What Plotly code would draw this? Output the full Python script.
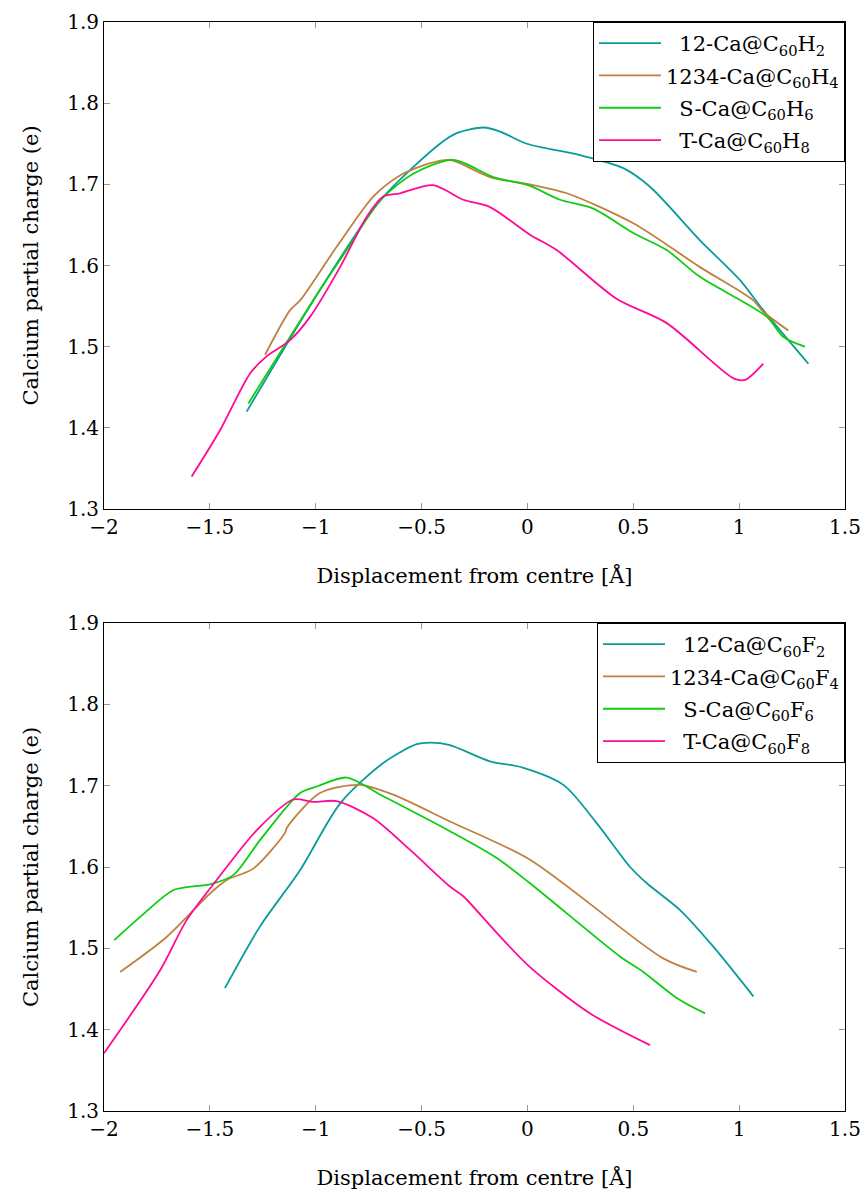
import plotly.graph_objects as go

# ---- Hydrogenated cages (upper panel) ----
h2_x = [-1.326, -1.011, -0.696, -0.413, -0.334, -0.208, -0.129, -0.003, 0.248, 0.453, 0.579, 0.815, 1.004, 1.114, 1.327]
h2_y = [1.420, 1.557, 1.680, 1.750, 1.763, 1.770, 1.765, 1.750, 1.736, 1.720, 1.697, 1.631, 1.582, 1.545, 1.479]

h4_x = [-1.239, -1.121, -1.074, -0.901, -0.728, -0.602, -0.460, -0.366, -0.177, 0.028, 0.186, 0.500, 0.815, 1.067, 1.114, 1.232]
h4_y = [1.490, 1.545, 1.557, 1.623, 1.685, 1.711, 1.726, 1.730, 1.709, 1.699, 1.689, 1.652, 1.598, 1.557, 1.543, 1.520]

h6_x = [-1.318, -0.980, -0.854, -0.696, -0.539, -0.350, -0.161, 0.012, 0.154, 0.311, 0.500, 0.658, 0.815, 1.130, 1.209, 1.311]
h6_y = [1.430, 1.570, 1.619, 1.680, 1.713, 1.730, 1.709, 1.698, 1.681, 1.670, 1.640, 1.619, 1.586, 1.537, 1.512, 1.500]

h8_x = [-1.586, -1.452, -1.310, -1.232, -1.121, -1.026, -0.885, -0.759, -0.681, -0.602, -0.445, -0.303, -0.177, 0.012, 0.138, 0.421, 0.658, 0.973, 1.028, 1.114]
h8_y = [1.340, 1.397, 1.467, 1.488, 1.508, 1.537, 1.598, 1.660, 1.685, 1.689, 1.699, 1.681, 1.672, 1.638, 1.619, 1.559, 1.529, 1.461, 1.459, 1.479]

# ---- Fluorinated cages (lower panel) ----
f2_x = [-1.429, -1.263, -1.074, -0.885, -0.681, -0.523, -0.460, -0.366, -0.177, -0.019, 0.170, 0.327, 0.485, 0.564, 0.721, 0.878, 1.067]
f2_y = [1.451, 1.527, 1.596, 1.678, 1.728, 1.751, 1.753, 1.750, 1.730, 1.722, 1.701, 1.654, 1.600, 1.580, 1.547, 1.502, 1.441]

f4_x = [-1.924, -1.704, -1.497, -1.420, -1.295, -1.145, -1.137, -0.980, -0.791, -0.634, -0.366, 0.012, 0.639, 0.800]
f4_y = [1.471, 1.514, 1.568, 1.584, 1.598, 1.642, 1.648, 1.691, 1.701, 1.689, 1.656, 1.609, 1.488, 1.471]

f6_x = [-1.952, -1.810, -1.669, -1.495, -1.389, -1.263, -1.074, -0.995, -0.854, -0.681, -0.366, -0.145, 0.012, 0.437, 0.547, 0.705, 0.839]
f6_y = [1.510, 1.543, 1.572, 1.579, 1.590, 1.633, 1.691, 1.699, 1.710, 1.687, 1.644, 1.611, 1.580, 1.490, 1.471, 1.439, 1.420]

f8_x = [-2.000, -1.735, -1.609, -1.468, -1.276, -1.106, -1.011, -0.901, -0.728, -0.554, -0.366, -0.303, -0.145, 0.012, 0.296, 0.579]
f8_y = [1.371, 1.473, 1.535, 1.584, 1.646, 1.683, 1.680, 1.681, 1.660, 1.621, 1.576, 1.564, 1.519, 1.477, 1.420, 1.381]

# legend labels; the shorter ones get a small non-breaking indent so they sit centred
PAD = "\u00a0\u00a0"
h_names = [PAD + "12-Ca@C<sub>60</sub>H<sub>2</sub>", "1234-Ca@C<sub>60</sub>H<sub>4</sub>",
           PAD + "S-Ca@C<sub>60</sub>H<sub>6</sub>", PAD + "T-Ca@C<sub>60</sub>H<sub>8</sub>"]
f_names = [PAD + "12-Ca@C<sub>60</sub>F<sub>2</sub>", "1234-Ca@C<sub>60</sub>F<sub>4</sub>",
           PAD + "S-Ca@C<sub>60</sub>F<sub>6</sub>", PAD + "T-Ca@C<sub>60</sub>F<sub>8</sub>"]

x_ticks = [-2, -1.5, -1, -0.5, 0, 0.5, 1, 1.5]
x_tick_text = ["\u22122", "\u22121.5", "\u22121", "\u22120.5", "0", "0.5", "1", "1.5"]
y_ticks = [1.3, 1.4, 1.5, 1.6, 1.7, 1.8, 1.9]

colors = ["#0a9b9b", "#c08040", "#10cc10", "#ff0a96"]
FONT = "DejaVu Serif"

fig = go.Figure()

upper = [(h2_x, h2_y), (h4_x, h4_y), (h6_x, h6_y), (h8_x, h8_y)]
lower = [(f2_x, f2_y), (f4_x, f4_y), (f6_x, f6_y), (f8_x, f8_y)]

for i, ((xs, ys), name, c) in enumerate(zip(upper, h_names, colors)):
    fig.add_trace(go.Scatter(x=xs, y=ys, mode="lines", name=name, legendgroup=f"h{i}",
                             line=dict(color=c, width=1.8, shape="spline", smoothing=0.8),
                             xaxis="x", yaxis="y", legend="legend"))

for i, ((xs, ys), name, c) in enumerate(zip(lower, f_names, colors)):
    fig.add_trace(go.Scatter(x=xs, y=ys, mode="lines", name=name, legendgroup=f"f{i}",
                             line=dict(color=c, width=1.8, shape="spline", smoothing=0.8),
                             xaxis="x2", yaxis="y2", legend="legend2"))

axis_common = dict(showgrid=False, zeroline=False, showline=True, linecolor="black",
                   linewidth=1, mirror="ticks", ticks="inside", ticklen=6,
                   tickcolor="#999999", tickwidth=1, automargin=False,
                   tickfont=dict(family=FONT, size=20, color="black"))

xtitle = dict(text="Displacement from centre [Å]", font=dict(family=FONT, size=21, color="black"), standoff=30)
ytitle = dict(text="Calcium partial charge (e)", font=dict(family=FONT, size=21, color="black"), standoff=22)

top_lo, top_hi = 0.5528, 1.0
bot_lo, bot_hi = 0.0, 0.4481

legend_common = dict(x=1, xanchor="right", bgcolor="white", bordercolor="black", borderwidth=1,
                     font=dict(family=FONT, size=21, color="black"), tracegroupgap=2,
                     itemwidth=62)

fig.update_layout(
    width=865, height=1191,
    margin=dict(l=104, r=20, t=22, b=80),
    plot_bgcolor="white", paper_bgcolor="white",
    font=dict(family=FONT),
    xaxis=dict(domain=[0, 1], range=[-2, 1.5], tickvals=x_ticks, ticktext=x_tick_text,
               anchor="y", title=xtitle, **axis_common),
    yaxis=dict(domain=[top_lo, top_hi], range=[1.3, 1.9], tickvals=y_ticks, tickformat=".1f",
               anchor="x", title=ytitle, **axis_common),
    xaxis2=dict(domain=[0, 1], range=[-2, 1.5], tickvals=x_ticks, ticktext=x_tick_text,
                anchor="y2", title=xtitle, **axis_common),
    yaxis2=dict(domain=[bot_lo, bot_hi], range=[1.3, 1.9], tickvals=y_ticks, tickformat=".1f",
                anchor="x2", title=ytitle, **axis_common),
    legend=dict(y=top_hi, yanchor="top", **legend_common),
    legend2=dict(y=bot_hi, yanchor="top", **legend_common),
    showlegend=True,
)

fig.write_html("out.html")
